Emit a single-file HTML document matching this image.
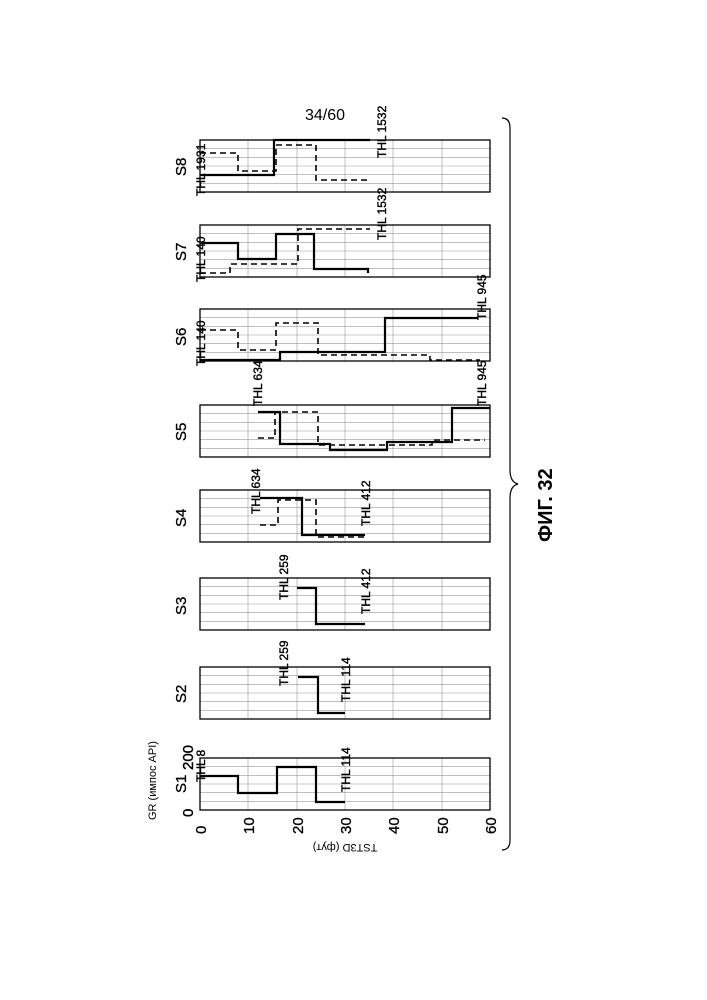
<!DOCTYPE html>
<html><head><meta charset="utf-8"><style>
html,body{margin:0;padding:0;background:#fff}
svg{display:block}
text{font-family:"Liberation Sans",sans-serif;fill:#000}
</style></head><body>
<svg width="707" height="1000" viewBox="0 0 707 1000" xmlns="http://www.w3.org/2000/svg">
<defs>
<g id="grid" stroke="#999" stroke-width="0.6" fill="none">
<line x1="248" y1="0" x2="248" y2="52"/><line x1="297" y1="0" x2="297" y2="52"/>
<line x1="345" y1="0" x2="345" y2="52"/><line x1="393" y1="0" x2="393" y2="52"/>
<line x1="442" y1="0" x2="442" y2="52"/>
<line x1="200" y1="8.7" x2="490" y2="8.7"/><line x1="200" y1="17.3" x2="490" y2="17.3"/>
<line x1="200" y1="26" x2="490" y2="26"/><line x1="200" y1="34.7" x2="490" y2="34.7"/>
<line x1="200" y1="43.3" x2="490" y2="43.3"/>
<rect x="200" y="0" width="290" height="52" stroke="#000" stroke-width="1.3"/>
</g>
</defs>
<text x="325" y="120" font-size="16" text-anchor="middle">34/60</text>
<use href="#grid" y="140"/><use href="#grid" y="225"/><use href="#grid" y="309"/>
<use href="#grid" y="405"/><use href="#grid" y="490"/><use href="#grid" y="578"/>
<use href="#grid" y="667"/><use href="#grid" y="758"/>
<g fill="none" stroke="#000" stroke-width="2.2">
<polyline points="200,776 238,776 238,793 277,793 277,767 316,767 316,802 345,802"/>
<polyline points="298,677 318,677 318,713 345,713"/>
<polyline points="297,588 316,588 316,624 365,624"/>
<polyline points="260,498 302,498 302,535 365,535"/>
<polyline points="258,412 280,412 280,444 330,444 330,450 387,450 387,442 452,442 452,408 490,408"/>
<polyline points="200,360 280,360 280,352 385,352 385,318 478,318"/>
<polyline points="200,243 238,243 238,259 276,259 276,234 314,234 314,269 368,269 368,273"/>
<polyline points="200,175 274,175 274,140 370,140"/>
</g>
<g fill="none" stroke="#000" stroke-width="1.6" stroke-dasharray="6,4">
<polyline points="260,525 278,525 278,500 316,500 316,537 365,537"/>
<polyline points="258,438 275,438 275,412 318,412 318,445 432,445 432,440 485,440"/>
<polyline points="200,330 238,330 238,350 276,350 276,323 318,323 318,355 430,355 430,360 480,360"/>
<polyline points="200,273 230,273 230,264 298,264 298,229 370,229"/>
<polyline points="200,153 238,153 238,171 276,171 276,145 316,145 316,180 366,180 368,183"/>
</g>
<g font-size="15" stroke="#000" stroke-width="0.3">
<text transform="translate(186,793) rotate(-90)">S1</text>
<text transform="translate(186,703) rotate(-90)">S2</text>
<text transform="translate(186,615) rotate(-90)">S3</text>
<text transform="translate(186,527) rotate(-90)">S4</text>
<text transform="translate(186,441) rotate(-90)">S5</text>
<text transform="translate(186,346) rotate(-90)">S6</text>
<text transform="translate(186,261) rotate(-90)">S7</text>
<text transform="translate(186,176) rotate(-90)">S8</text>
</g>
<g font-size="12" stroke="#000" stroke-width="0.4">
<text transform="translate(205,782) rotate(-90)">THL 8</text>
<text transform="translate(193,770) rotate(-90)" font-size="15">200</text>
<text transform="translate(193,817) rotate(-90)" font-size="15">0</text>
<text transform="translate(350,792) rotate(-90)">THL 114</text>
<text transform="translate(288,686) rotate(-90)">THL 259</text>
<text transform="translate(350,702) rotate(-90)">THL 114</text>
<text transform="translate(288,600) rotate(-90)">THL 259</text>
<text transform="translate(370,614) rotate(-90)">THL 412</text>
<text transform="translate(260,514) rotate(-90)">THL 634</text>
<text transform="translate(370,526) rotate(-90)">THL 412</text>
<text transform="translate(262,406) rotate(-90)">THL 634</text>
<text transform="translate(486,406) rotate(-90)">THL 945</text>
<text transform="translate(486,320) rotate(-90)">THL 945</text>
<text transform="translate(205,366) rotate(-90)">THL 140</text>
<text transform="translate(205,282) rotate(-90)">THL 140</text>
<text transform="translate(386,240) rotate(-90)">THL 1532</text>
<text transform="translate(205,196) rotate(-90)">THL 1931</text>
<text transform="translate(386,158) rotate(-90)">THL 1532</text>
</g>
<g font-size="15" stroke="#000" stroke-width="0.3">
<text transform="translate(206,834) rotate(-90)">0</text>
<text transform="translate(254,834) rotate(-90)">10</text>
<text transform="translate(303,834) rotate(-90)">20</text>
<text transform="translate(351,834) rotate(-90)">30</text>
<text transform="translate(399,834) rotate(-90)">40</text>
<text transform="translate(448,834) rotate(-90)">50</text>
<text transform="translate(496,834) rotate(-90)">60</text>
</g>
<text transform="translate(156,820) rotate(-90)" font-size="11" font-family="Liberation Serif,serif">GR (импос API)</text>
<text transform="translate(345,844) rotate(180)" font-size="11" font-family="Liberation Serif,serif" text-anchor="middle">TST3D (фут)</text>
<text transform="translate(552,542) rotate(-90)" font-size="20" font-weight="bold" font-family="Liberation Serif,serif">ФИГ. 32</text>
<path d="M502,118 Q510,118 510,128 L510,470 Q510,482 518,484 Q510,486 510,498 L510,840 Q510,850 502,850" fill="none" stroke="#000" stroke-width="1.2"/>
</svg>
</body></html>
